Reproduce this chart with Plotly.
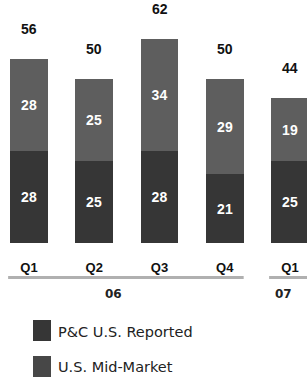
import plotly.graph_objects as go

quarters = ["Q1", "Q2", "Q3", "Q4", "Q1"]
years = ["06", "06", "06", "06", "07"]
pc_us_reported = [28, 25, 28, 21, 25]
us_mid_market = [28, 25, 34, 29, 19]
totals = [56, 50, 62, 50, 44]

W, H = 307, 377
DARK = "#363636"
LIGHT = "#5e5e5e"
LEG2 = "#474747"

def py(p):
    return (H - p) / H

x = list(range(len(quarters)))
label_font = dict(family="Liberation Sans, Arial", size=14, color="white")

fig = go.Figure()
fig.add_trace(go.Bar(x=x, y=pc_us_reported, name="P&C U.S. Reported",
                     marker=dict(color=DARK, line=dict(width=0)),
                     text=[f"<b>{v}</b>" for v in pc_us_reported], textposition="inside",
                     insidetextanchor="middle", textfont=label_font,
                     textangle=0, showlegend=False, width=0.58, hoverinfo="skip"))
fig.add_trace(go.Bar(x=x, y=us_mid_market, name="U.S. Mid-Market",
                     marker=dict(color=LIGHT, line=dict(width=0)),
                     text=[f"<b>{v}</b>" for v in us_mid_market], textposition="inside",
                     insidetextanchor="middle", textfont=label_font,
                     textangle=0, showlegend=False, width=0.58, hoverinfo="skip"))

ann = []
for xi, t in zip(x, totals):
    ann.append(dict(x=xi, y=t, xref="x", yref="y", text=f"<b>{t}</b>", showarrow=False,
                    yanchor="middle", yshift=30,
                    font=dict(family="Liberation Sans, Arial", size=14, color="#111")))

# year group labels
groups = {}
for xi, yr in zip(x, years):
    groups.setdefault(yr, []).append(xi)
for yr, xs in groups.items():
    if len(xs) > 1:
        cx = (min(xs) + max(xs)) / 2 - 0.2
    else:
        cx = xs[0] - 0.1
    ann.append(dict(x=cx, y=py(294), xref="x", yref="paper", text=f"<b>{yr}</b>",
                    showarrow=False, yanchor="middle",
                    font=dict(family="DejaVu Sans", size=12, color="#222")))

# legend
shapes = []
leg = [("P&C U.S. Reported", DARK, 320, 341), ("U.S. Mid-Market", LEG2, 356, 378)]
for name, col, y0, y1 in leg:
    shapes.append(dict(type="rect", xref="paper", yref="paper",
                       x0=33 / W, x1=51 / W, y0=py(y1), y1=py(y0),
                       fillcolor=col, line=dict(width=0)))
    ann.append(dict(x=56 / W, y=py(331.5 if y0 == 320 else 367), xref="paper", yref="paper",
                    text=name, showarrow=False, xanchor="left", yanchor="middle",
                    font=dict(family="DejaVu Sans", size=14.5, color="#222")))

# group axis lines
for yr, xs in groups.items():
    shapes.append(dict(type="line", xref="x", yref="paper",
                       x0=min(xs) - 0.32, x1=max(xs) + 0.29,
                       y0=py(277.5), y1=py(277.5),
                       line=dict(color="#b0b0b0", width=3)))

px_per_unit = 3.29
base = 243
fig.update_layout(
    width=W, height=H, margin=dict(l=0, r=0, t=0, b=0),
    paper_bgcolor="white", plot_bgcolor="white",
    barmode="stack", bargap=0,
    annotations=ann, shapes=shapes,
    xaxis=dict(range=[-29 / 65.25, -29 / 65.25 + W / 65.25],
               tickvals=x, ticktext=[f"<b>{q}</b>" for q in quarters],
               showgrid=False, zeroline=False, showline=False, ticks="",
               anchor="free", position=py(258),
               tickfont=dict(family="Liberation Sans, Arial", size=13, color="#111")),
    yaxis=dict(range=[-(H - base) / px_per_unit, base / px_per_unit],
               visible=False, showgrid=False, zeroline=False),
    uniformtext=dict(mode="show", minsize=8),
)
fig.write_html("out.html", config={"displayModeBar": False},
               post_script="document.body.style.margin='0px';")
